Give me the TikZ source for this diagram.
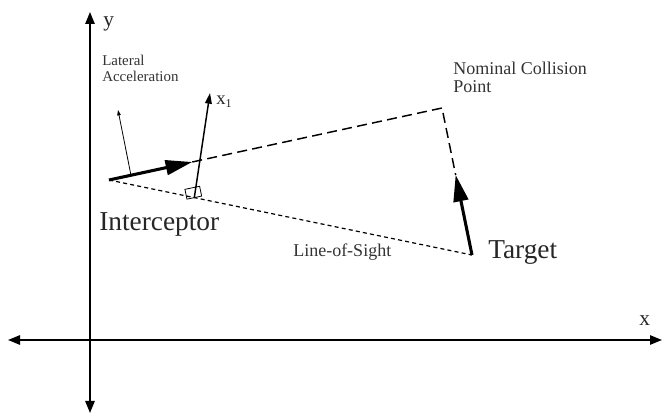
\documentclass[tikz,border=0pt]{standalone}
\usepackage{fontspec}
\setmainfont{Liberation Serif}
\usetikzlibrary{arrows.meta,calc}
\begin{document}
\begin{tikzpicture}[x=0.75pt,y=-0.75pt,
  axisline/.style={line width=1.3pt,{Triangle[length=9pt,width=7pt]}-{Triangle[length=9pt,width=7pt]}},
  velocity/.style={line width=2.3pt,-{Triangle[length=20pt,width=11pt]}},
  xoneaxis/.style={line width=1.1pt,-{Triangle[length=8pt,width=5pt]}},
  lataxis/.style={line width=0.6pt,-{Triangle[length=4pt,width=2.6pt]}},
  pathdash/.style={line width=1.1pt,dash pattern=on 7.5pt off 4pt},
  losdash/.style={line width=0.9pt,dash pattern=on 3pt off 2.4pt},
  bigtext/.style={inner sep=0pt,anchor=base west,font=\fontsize{20.5}{22}\selectfont,text=black!85},
  midtext/.style={inner sep=0pt,anchor=base west,font=\fontsize{13.5}{15}\selectfont,text=black!80},
  smalltext/.style={inner sep=0pt,anchor=base west,align=left,font=\fontsize{11.2}{12.3}\selectfont,text=black!80},
  axtext/.style={inner sep=0pt,anchor=base west,font=\fontsize{16}{18}\selectfont,text=black!85}]
\useasboundingbox (0,0) rectangle (662,413);
% axes
\coordinate (ytop) at (90,12);
\coordinate (ybot) at (90,413);
\coordinate (xleft) at (8,340);
\coordinate (xright) at (662,340);
\draw[axisline] (ybot) -- (ytop);
\draw[axisline] (xleft) -- (xright);
\node[axtext] (ylab) at (103,27) {y};
\node[axtext] (xlab) at (639,326) {x};
% key points
\coordinate (I) at (109,180);
\coordinate (T) at (472,255);
\coordinate (C) at (442,108);
\coordinate (Iv) at ($(I)!0.25!(C)$);
\coordinate (Tv) at ($(T)!0.545!(C)$);
% line of sight
\draw[losdash] (I) -- (T);
% dashed paths to collision point
\draw[pathdash] (Iv) -- (C) -- (Tv);
% velocity arrows
\draw[velocity] (I) -- (Iv);
\draw[velocity] (T) -- (Tv);
% x1 axis with right-angle mark
\coordinate (F) at ($(I)!0.235!(T)$);
\coordinate (X1) at (210,93);
\draw[xoneaxis] (F) -- (X1);
\draw[line width=0.6pt,rotate around={11.7:(F)}] ($(F)+(-7.5,0)$) rectangle ($(F)+(7.5,-10)$);
\node[axtext,font=\fontsize{14}{16}\selectfont] (x1lab) at (216,105) {x\raisebox{-0.35ex}{\fontsize{9}{10}\selectfont 1}};
% lateral acceleration
\coordinate (La) at ($(I)!0.066!(C)$);
\coordinate (Lb) at (118,110);
\draw[lataxis] (La) -- (Lb);
\node[smalltext] (latlab) at (102,82) {Lateral\\Acceleration};
% labels
\node[bigtext] (ilab) at (99,231) {Interceptor};
\node[bigtext] (tlab) at (488,259) {Target};
\node[midtext] (loslab) at (293,257) {Line-of-Sight};
\node[midtext,align=left] (clab) at (453,93) {Nominal Collision\\[-1.5pt]Point};
\end{tikzpicture}
\end{document}
